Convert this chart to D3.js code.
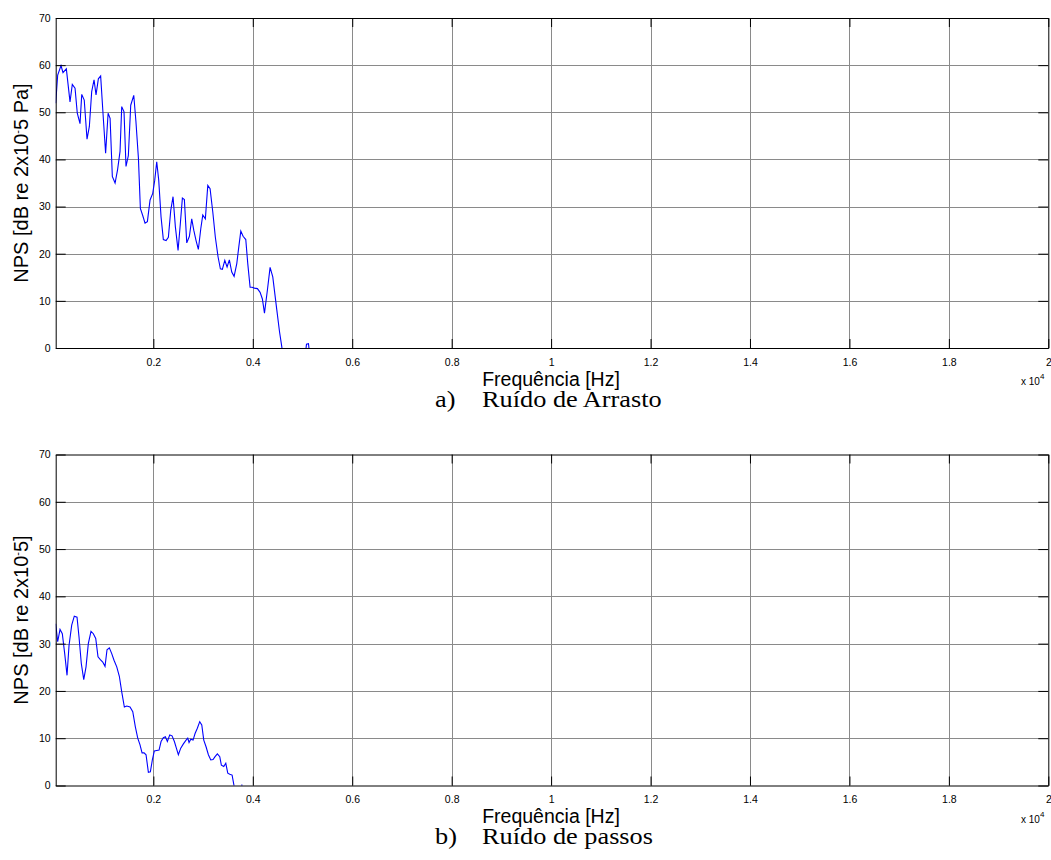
<!DOCTYPE html>
<html>
<head>
<meta charset="utf-8">
<script src="https://cdn.jsdelivr.net/npm/d3@7"></script>
<style>
  body { margin: 0; background: #fff; }
  svg { display: block; }
</style>
</head>
<body>
<svg id="chart" width="1051" height="860"></svg>
<script>
// frequencies are in units of 10^4 Hz (the axis shows "x 10^4")
const dragFreq = [0.0036, 0.0076, 0.0143, 0.0183, 0.025, 0.0324, 0.037, 0.0425, 0.047, 0.0525,
  0.056, 0.061, 0.0666, 0.0713, 0.076, 0.0807, 0.0847, 0.0894, 0.094, 0.0994,
  0.104, 0.109, 0.113, 0.1175, 0.123, 0.128, 0.133, 0.1364, 0.141, 0.145,
  0.1497, 0.1545, 0.1606, 0.165, 0.17, 0.1739, 0.1786, 0.1833, 0.188, 0.1934,
  0.1988, 0.2028, 0.2068, 0.2108, 0.2155, 0.2201, 0.2256, 0.2302, 0.235, 0.2396,
  0.2443, 0.2497, 0.2543, 0.2584, 0.2624, 0.2672, 0.2725, 0.2772, 0.2813, 0.2859,
  0.2905, 0.2954, 0.2994, 0.3046, 0.3095, 0.3141, 0.3195, 0.3247, 0.3302, 0.3348,
  0.3388, 0.3437, 0.3483, 0.3529, 0.3577, 0.3624, 0.3678, 0.3718, 0.3759, 0.3805,
  0.3859, 0.3899, 0.3946, 0.3986, 0.4032, 0.4093, 0.4147, 0.4193, 0.4235, 0.4294,
  0.4348, 0.4402, 0.4483, 0.4537, 0.4583, 0.463, 0.505, 0.508, 0.512, 0.515];
const dragNps = [51.9, 57.9, 59.9, 58.4, 59.2, 52.2, 55.9, 55.1, 49.8, 47.6,
  53.8, 52.6, 44.3, 47.0, 54.4, 56.9, 53.7, 57.1, 57.7, 48.7,
  41.3, 49.8, 48.7, 36.4, 35.0, 37.8, 41.7, 51.2, 50.1, 38.5,
  40.8, 51.5, 53.6, 48.0, 40.2, 29.6, 28.1, 26.5, 26.8, 31.4,
  32.8, 35.6, 39.5, 35.6, 27.8, 23.0, 22.8, 23.5, 29.2, 32.1,
  25.7, 20.7, 26.4, 31.8, 31.5, 22.3, 23.7, 27.4, 25.0, 22.8,
  20.9, 25.3, 28.2, 27.4, 34.5, 33.8, 28.9, 23.5, 19.3, 16.8,
  16.7, 18.6, 17.2, 18.7, 16.1, 15.2, 17.9, 21.4, 24.8, 23.7,
  23.0, 17.9, 12.9, 12.9, 12.7, 12.6, 11.8, 10.4, 7.4, 12.3,
  17.1, 15.1, 8.1, 3.5, 0.3, -4, -2, 0.8, 0.9, -2];

const stepFreq = [0.0036, 0.0076, 0.0123, 0.0169, 0.0217, 0.0264, 0.0304, 0.0358, 0.041, 0.0465,
  0.0505, 0.0551, 0.06, 0.0646, 0.0692, 0.0746, 0.0793, 0.0841, 0.0887, 0.0934,
  0.0982, 0.1028, 0.1068, 0.1115, 0.1163, 0.1209, 0.1264, 0.1316, 0.1364, 0.1417,
  0.1465, 0.1531, 0.1586, 0.1638, 0.1686, 0.1732, 0.1773, 0.1813, 0.1853, 0.19,
  0.194, 0.198, 0.202, 0.2068, 0.2115, 0.2155, 0.2201, 0.2242, 0.2282, 0.233,
  0.2376, 0.2423, 0.2463, 0.2503, 0.2551, 0.2604, 0.2658, 0.2692, 0.2718, 0.2753,
  0.2799, 0.2839, 0.2885, 0.2933, 0.2974, 0.3014, 0.306, 0.3107, 0.3155, 0.3201,
  0.3241, 0.3288, 0.3336, 0.3368, 0.3416, 0.3457, 0.3497, 0.3537, 0.3584, 0.3624,
  0.366, 0.376, 0.378, 0.381];
const stepNps = [34.2, 30.4, 33.0, 32.1, 27.9, 23.3, 29.6, 33.9, 35.8, 35.6,
  31.4, 25.8, 22.4, 25.1, 30.0, 32.6, 32.1, 31.1, 27.2, 26.6,
  26.1, 25.2, 28.7, 29.1, 27.9, 26.5, 25.1, 23.1, 19.8, 16.6,
  16.8, 16.6, 15.6, 12.4, 10.0, 8.6, 6.9, 6.9, 6.5, 2.8,
  2.9, 5.4, 7.3, 7.4, 7.5, 9.3, 10.1, 10.3, 9.3, 10.7,
  10.5, 9.3, 7.9, 6.5, 7.9, 8.8, 9.6, 10.0, 9.1, 9.8,
  9.6, 11.0, 12.1, 13.5, 12.8, 9.6, 8.2, 6.5, 5.4, 5.5,
  6.1, 6.7, 6.1, 4.3, 4.0, 4.7, 2.6, 2.4, 2.2, -0.1,
  -3, -2, 0.2, -2];

const xTicks = [0.2, 0.4, 0.6, 0.8, 1, 1.2, 1.4, 1.6, 1.8, 2];
const yTicks = [0, 10, 20, 30, 40, 50, 60, 70];

const panels = [
  { top: 18, bottom: 348, freq: dragFreq, nps: dragNps,
    ylabel: ["NPS [dB re 2x10", "5 Pa]"], tag: "a)", caption: "Ruído de Arrasto" },
  { top: 454.5, bottom: 785.5, freq: stepFreq, nps: stepNps,
    ylabel: ["NPS [dB re 2x10", "5]"], tag: "b)", caption: "Ruído de passos" }
];

const svg = d3.select("#chart");
const left = 55.7, right = 1048.3;
const sans = "'Liberation Sans', Arial, sans-serif";
const serif = "'Liberation Serif', 'Times New Roman', serif";

panels.forEach((p, i) => {
  const x = d3.scaleLinear().domain([0.0036, 2]).range([left, right]);
  const y = d3.scaleLinear().domain([0, 70]).range([p.bottom, p.top]);
  const h = p.bottom - p.top;
  const w = right - left;
  const g = svg.append("g");

  // grid
  g.append("g")
    .attr("transform", "translate(0," + p.bottom + ")")
    .call(d3.axisBottom(x).tickValues(xTicks.slice(0, -1)).tickSize(-h).tickFormat(""))
    .call((a) => {
      a.select(".domain").remove();
      a.selectAll("line").attr("stroke", "#8a8a8a").attr("shape-rendering", "crispEdges");
    });
  g.append("g")
    .attr("transform", "translate(" + left + ",0)")
    .call(d3.axisLeft(y).tickValues(yTicks.slice(1, -1)).tickSize(-w).tickFormat(""))
    .call((a) => {
      a.select(".domain").remove();
      a.selectAll("line").attr("stroke", "#8a8a8a").attr("shape-rendering", "crispEdges");
    });

  // curve, clipped to the axes box
  const clipId = "clip" + i;
  svg.append("clipPath").attr("id", clipId)
    .append("rect").attr("x", left).attr("y", p.top).attr("width", w).attr("height", h);

  const pts = p.freq.map((f, k) => [f, p.nps[k]]);
  g.append("path")
    .datum(pts)
    .attr("clip-path", "url(#" + clipId + ")")
    .attr("fill", "none")
    .attr("stroke", "#0000ff")
    .attr("stroke-width", 1.1)
    .attr("d", d3.line().x((d) => x(d[0])).y((d) => y(d[1])));

  // axes with inward ticks on all four sides
  const styleAxis = (a) => {
    a.select(".domain").attr("stroke", "#000");
    a.selectAll(".tick line").attr("stroke", "#000");
    a.selectAll("text").attr("font-family", sans).attr("font-size", 10.5).attr("fill", "#000");
  };
  g.append("g")
    .attr("transform", "translate(0," + p.bottom + ")")
    .call(d3.axisBottom(x).tickValues(xTicks).tickSizeInner(-9).tickSizeOuter(0).tickPadding(6).tickFormat(d3.format("~g")))
    .call(styleAxis)
    .call((a) => a.selectAll("text").attr("dy", "1.1em"));
  g.append("g")
    .attr("transform", "translate(0," + p.top + ")")
    .call(d3.axisTop(x).tickValues(xTicks).tickSizeInner(-9).tickSizeOuter(0).tickFormat(""))
    .call(styleAxis);
  g.append("g")
    .attr("transform", "translate(" + left + ",0)")
    .call(d3.axisLeft(y).tickValues(yTicks).tickSizeInner(-10).tickSizeOuter(0).tickPadding(5))
    .call(styleAxis)
    .call((a) => a.selectAll("text").attr("x", -5));
  g.append("g")
    .attr("transform", "translate(" + right + ",0)")
    .call(d3.axisRight(y).tickValues(yTicks).tickSizeInner(-10).tickSizeOuter(0).tickFormat(""))
    .call(styleAxis);

  // exponent note
  const ex = g.append("text")
    .attr("x", 1021).attr("y", p.bottom + 37)
    .attr("font-family", sans).attr("font-size", 10).attr("fill", "#000")
    .text("x 10");
  ex.append("tspan").attr("dy", -6).attr("font-size", 8).text("4");

  // x label
  g.append("text")
    .attr("x", 551).attr("y", p.bottom + 37.5)
    .attr("text-anchor", "middle")
    .attr("font-family", sans).attr("font-size", 19.5).attr("fill", "#000")
    .text("Frequência [Hz]");

  // y label
  const yl = g.append("text")
    .attr("transform", "translate(27.5," + (p.top + h / 2) + ") rotate(-90)")
    .attr("text-anchor", "middle")
    .attr("font-family", sans).attr("font-size", 20).attr("fill", "#000");
  yl.append("tspan").text(p.ylabel[0]);
  yl.append("tspan").attr("dy", -7).attr("font-size", 11).text("-");
  yl.append("tspan").attr("dy", 7).text(p.ylabel[1]);

  // caption
  g.append("text")
    .attr("transform", "translate(435," + (p.bottom + 58.5) + ") scale(1.12,1)")
    .attr("font-family", serif).attr("font-size", 23.5).attr("fill", "#000")
    .text(p.tag);
  g.append("text")
    .attr("transform", "translate(482," + (p.bottom + 58.5) + ") scale(1.12,1)")
    .attr("font-family", serif).attr("font-size", 23.5).attr("fill", "#000")
    .text(p.caption);
});
</script>
</body>
</html>
